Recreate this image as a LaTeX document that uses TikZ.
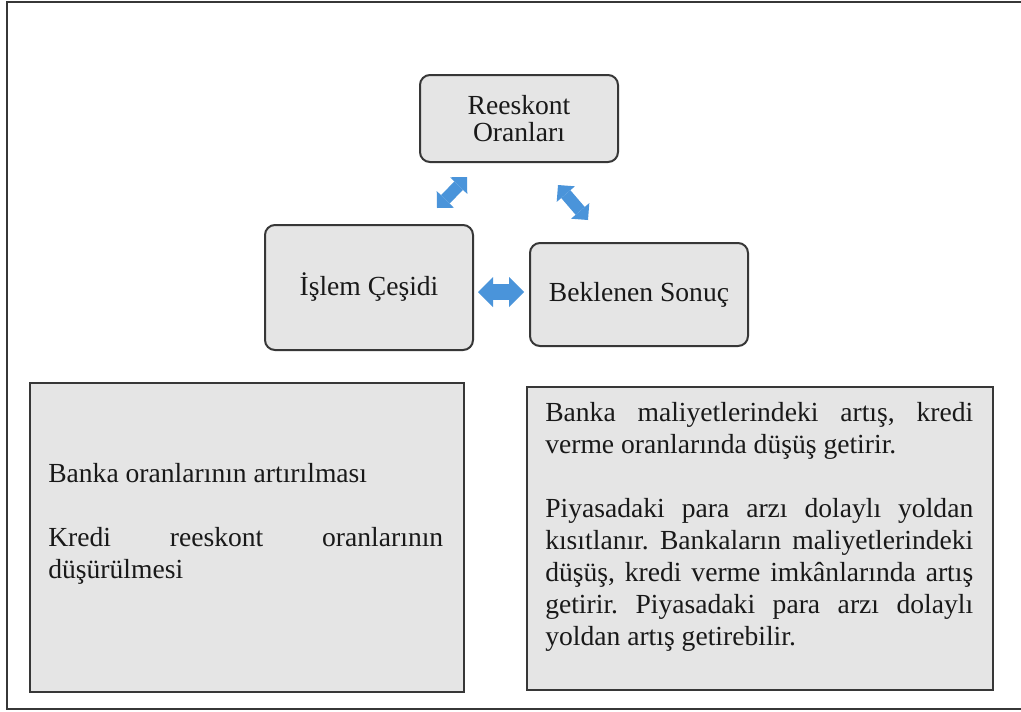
\documentclass[tikz,border=0pt]{standalone}
\usepackage{fontspec}
\setmainfont{Liberation Serif}
\usetikzlibrary{arrows.meta}
\definecolor{boxfill}{RGB}{229,229,229}
\definecolor{framecol}{RGB}{55,55,55}
\definecolor{arrowblue}{RGB}{74,148,218}
\definecolor{txt}{RGB}{25,25,25}
\tikzset{
  rbox/.style={draw=framecol, line width=1.5pt, fill=boxfill, rounded corners=7.5pt,
    align=center, inner sep=0pt, text=txt, font=\fontsize{20.7}{20.25}\selectfont},
  bigbox/.style={draw=framecol, line width=1.5pt, fill=boxfill, inner sep=0pt},
  bodytext/.style={anchor=north west, inner sep=0pt, align=justify, text=txt,
    font=\fontsize{20.7}{24}\selectfont\frenchspacing},
  bigtip/.style={Triangle[width=22.5pt 0, length=11.25pt 0, line width=0pt]},
  smalltip/.style={Triangle[width=18pt 0, length=9pt 0, line width=0pt]},
  biarrow/.style={draw=arrowblue, fill=arrowblue, line width=12pt, {Triangle[width=22.5pt 0, length=11.25pt 0, line width=0pt]}-{Triangle[width=22.5pt 0, length=11.25pt 0, line width=0pt]}},
  diagarrow/.style={draw=arrowblue, fill=arrowblue, line width=9pt, {Triangle[width=18pt 0, length=9pt 0, line width=0pt]}-{Triangle[width=18pt 0, length=9pt 0, line width=0pt]}},
  outerframe/.style={draw=framecol, line width=1.5pt}
}
\begin{document}
\begin{tikzpicture}[x=0.75pt, y=-0.75pt]
\useasboundingbox (0,0) rectangle (1021,711);
\fill[white] (0,0) rectangle (1021,711);
\draw[outerframe] (7,2) rectangle (1030,709);

% top nodes
\node[rbox, minimum width=148.5pt, minimum height=65.25pt] (rees) at (519,118.5) {Reeskont\\Oranları};
\node[rbox, minimum width=156pt, minimum height=93.75pt] (islem) at (369,287.5) {İşlem Çeşidi};
\node[rbox, minimum width=163.5pt, minimum height=77.25pt] (bekl) at (639,294.5) {Beklenen Sonuç};

% block arrows
\coordinate (h1) at (478,292);
\coordinate (h2) at (524,292);
\draw[biarrow] (h1) -- (h2);
\coordinate (d1a) at (437,208);
\coordinate (d1b) at (467,177);
\draw[diagarrow] (d1a) -- (d1b);
\coordinate (d2a) at (558,185);
\coordinate (d2b) at (588,220);
\draw[diagarrow] (d2a) -- (d2b);

% big boxes
\node[bigbox, minimum width=325.5pt, minimum height=231.75pt] (lbox) at (247,537.5) {};
\node[bigbox, minimum width=349.5pt, minimum height=227.25pt] (rbox) at (760,538.5) {};

\node[bodytext, text width=296.25pt] (ltext) at (48,459.6)
  {\strut Banka oranlarının artırılması\par\vspace{24pt}%
   Kredi reeskont oranlarının\linebreak düşürülmesi};

\node[bodytext, text width=321pt] (rtext) at (545,398.6)
  {\strut Banka maliyetlerindeki artış, kredi\linebreak verme oranlarında düşüş getirir.\par\vspace{24pt}%
   Piyasadaki para arzı dolaylı yoldan\linebreak kısıtlanır. Bankaların maliyetlerindeki\linebreak düşüş, kredi verme imkânlarında artış\linebreak getirir. Piyasadaki para arzı dolaylı\linebreak yoldan artış getirebilir.};
\end{tikzpicture}
\end{document}
